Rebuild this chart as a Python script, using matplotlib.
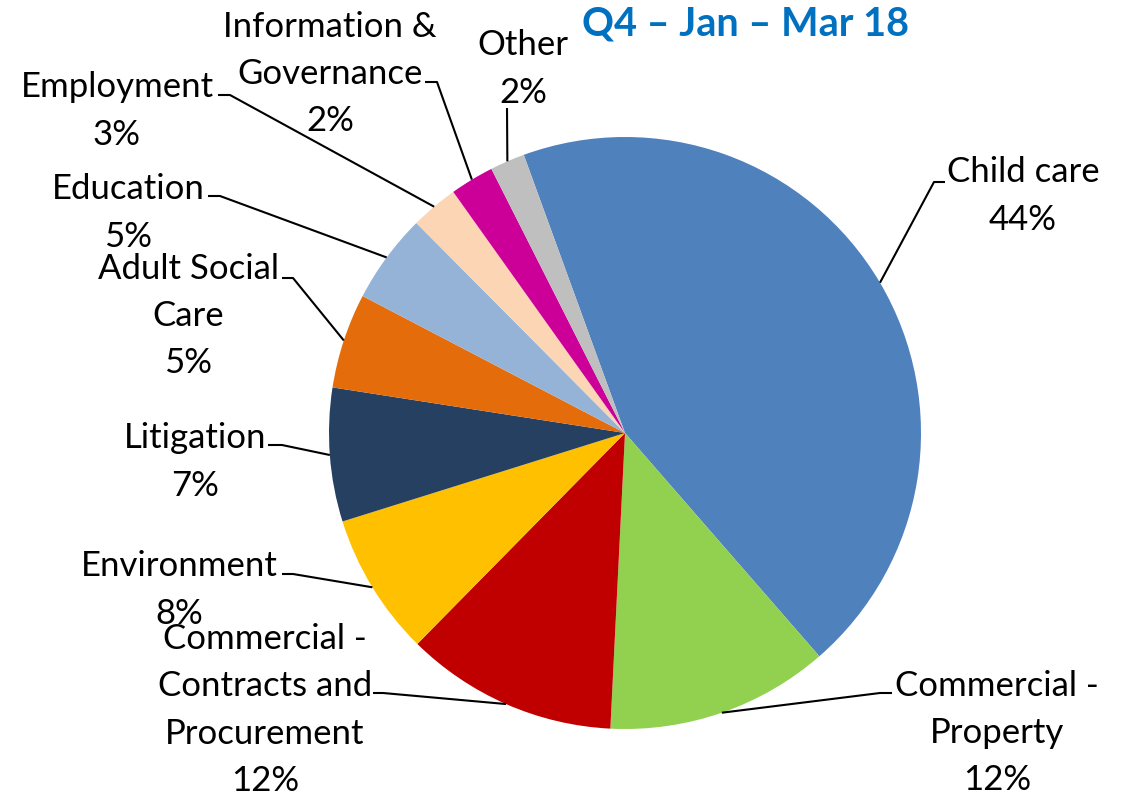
import matplotlib.pyplot as plt
import numpy as np

plt.rcParams['font.family'] = ['Lato', 'DejaVu Sans']

# ---- data ----
categories = ["Child care", "Commercial -\nProperty", "Commercial -\nContracts and\nProcurement",
              "Environment", "Litigation", "Adult Social\nCare", "Education", "Employment",
              "Information &\nGovernance", "Other"]
shares = [44.2, 12.2, 11.6, 7.8, 7.3, 5.2, 4.9, 2.6, 2.4, 1.9]
colors = ["#4F81BD", "#92D050", "#C00000", "#FFC000", "#254061", "#E46C0A",
          "#95B3D7", "#FCD5B5", "#CC0099", "#BFBFBF"]
title = "Q4 \u2013 Jan \u2013 Mar 18"

# ---- layout (pixel positions of label text centres and leader stubs) ----
W, H = 1129, 795
CX, CY, R = 625, 433, 296
label_pos = [(1023, 196), (997, 733), (265, 710), (179, 590), (195, 462),
             (188, 316), (128, 213), (117, 111), (330, 74), (523, 69)]
leader_stub = [[(945, 182), (934, 182)], [(892, 693), (880, 693)], [(373, 693), (383, 693)],
               [(282, 574), (293, 574)], [(268, 445), (282, 445)], [(282, 278), (293, 278)],
               [(208, 196), (220, 196)], [(218, 95), (230, 95)], [(425, 82), (437, 82)],
               [(507, 108)]]


def px(x, y):
    return ((x - CX) / R, (CY - y) / R)


fig = plt.figure(figsize=(W / 100, H / 100), dpi=100)
ax = fig.add_axes([0, 0, 1, 1])
wedges, _ = ax.pie(shares, colors=colors, startangle=110, counterclock=False,
                   radius=1, center=(0, 0), wedgeprops=dict(linewidth=0))
ax.set_xlim(-CX / R, (W - CX) / R)
ax.set_ylim(-(H - CY) / R, CY / R)
ax.set_aspect('equal')
ax.axis('off')

for w, cat, s, lp, stub in zip(wedges, categories, shares, label_pos, leader_stub):
    mid = np.deg2rad((w.theta1 + w.theta2) / 2)
    edge = (np.cos(mid), np.sin(mid))
    pts = [px(*p) for p in stub] + [edge]
    ax.plot([p[0] for p in pts], [p[1] for p in pts], color='black', lw=1.5,
            solid_capstyle='butt', zorder=3)
    tx, ty = px(*lp)
    ax.text(tx, ty, f"{cat}\n{round(s)}%", ha='center', va='center', multialignment='center',
            fontsize=25, linespacing=1.58, color='black')

tx, ty = px(746, 24)
ax.text(tx, ty, title, ha='center', va='center', fontsize=28.5, fontweight='bold', color='#0070C0')

fig.savefig('out.png', dpi=100)
